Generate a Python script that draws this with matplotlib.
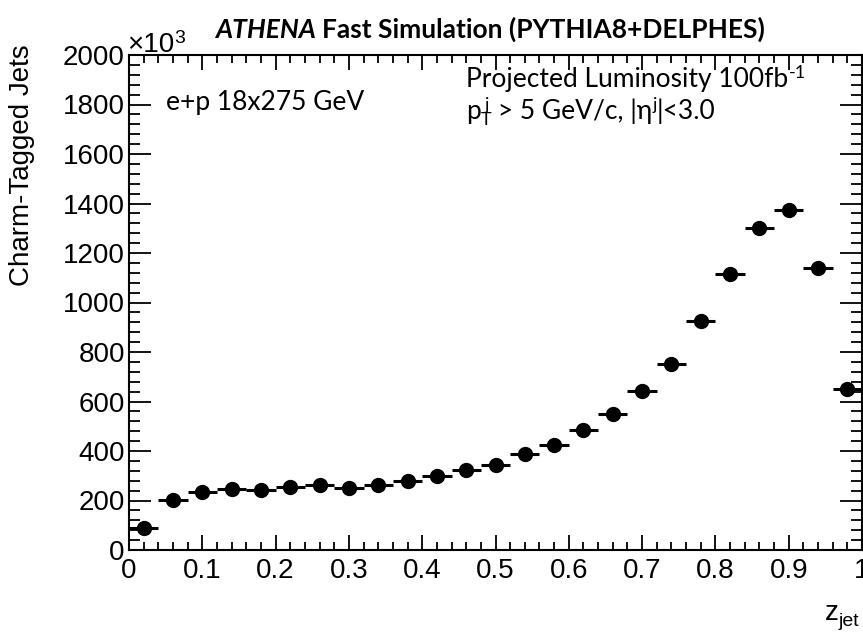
import numpy as np
import matplotlib
matplotlib.use("Agg")
from matplotlib import pyplot as plt
from matplotlib.ticker import MultipleLocator

# bin centres of z_jet (bin width 0.04) and counts in units of 10^3
z_centres = [0.02, 0.06, 0.10, 0.14, 0.18, 0.22, 0.26, 0.30, 0.34, 0.38,
             0.42, 0.46, 0.50, 0.54, 0.58, 0.62, 0.66, 0.70, 0.74, 0.78,
             0.82, 0.86, 0.90, 0.94, 0.98]
counts_k = [87, 203, 234, 245, 242, 255, 261, 250, 261, 279,
            298, 323, 345, 387, 423, 483, 548, 644, 753, 925,
            1114, 1301, 1374, 1141, 649]
bin_halfwidth = 0.02

helv = ['Liberation Sans', 'DejaVu Sans']
lato = ['Lato', 'DejaVu Sans']

W, H = 863, 634
fig = plt.figure(figsize=(W/100, H/100), dpi=100)
ax = fig.add_axes([129/W, 1 - 550/H, 733/W, 495/H])

ax.errorbar(z_centres, counts_k, xerr=bin_halfwidth, fmt='o', color='black',
            markersize=10, elinewidth=2.2, capsize=0)

ax.set_xlim(0, 1)
ax.set_ylim(0, 2000)
ax.xaxis.set_minor_locator(MultipleLocator(0.02))
ax.yaxis.set_major_locator(MultipleLocator(200))
ax.yaxis.set_minor_locator(MultipleLocator(40))
ax.set_xticks(np.arange(0, 1.01, 0.1))
ax.set_xticklabels(['0', '0.1', '0.2', '0.3', '0.4', '0.5', '0.6', '0.7', '0.8', '0.9', '1'])
ax.tick_params(axis='both', which='both', direction='in', top=True, right=True,
               width=1.3, labelsize=20)
ax.tick_params(axis='x', which='major', length=11, pad=6)
ax.tick_params(axis='x', which='minor', length=5.5)
ax.tick_params(axis='y', which='major', length=16, pad=3)
ax.tick_params(axis='y', which='minor', length=8)
for lab in ax.get_xticklabels() + ax.get_yticklabels():
    lab.set_family(helv)
for sp in ax.spines.values():
    sp.set_linewidth(1.5)


def px(x, y):
    return x / W, 1 - y / H


def after(txt, s, dy, size, fam, gap=1):
    # put a small text (sup/sub) right after another one, dy in pixels (up is +)
    fig.canvas.draw()
    bb = txt.get_window_extent()
    x0, y0 = txt.get_position()
    return fig.text((bb.x1 + gap) / W, y0 + dy / H, s, ha='left', va='baseline',
                    fontsize=size, family=fam)


fig.text(0.025, 0.74, "Charm-Tagged Jets", rotation=90, ha='center', va='center',
         fontsize=20, family=helv)

zt = fig.text(*px(825, 620), "z", ha='left', va='baseline', fontsize=20, family=helv)
after(zt, "jet", -6, 14, helv, gap=0)

xt = fig.text(*px(127, 52), "×10", ha='left', va='baseline', fontsize=20, family=helv)
after(xt, "3", 9, 14, helv, gap=0)

# title: ATHENA in bold italic, rest bold
t1 = fig.text(*px(215, 38), "ATHENA", ha='left', va='baseline',
              fontsize=19, family=lato, weight='bold', style='italic')
after(t1, "Fast Simulation (PYTHIA8+DELPHES)", 0, 19, lato, gap=6).set_weight('bold')

fig.text(*px(166, 110), "e+p 18x275 GeV", ha='left', va='baseline',
         fontsize=19, family=lato)
lum = fig.text(*px(466, 87), "Projected Luminosity 100fb", ha='left', va='baseline',
               fontsize=19, family=lato)
after(lum, "-1", 9, 13, lato)
p = fig.text(*px(466, 119), "p", ha='left', va='baseline', fontsize=19, family=lato)
pT = after(p, "T", -6, 13, lato, gap=0)
fig.canvas.draw()
pj = fig.text((p.get_window_extent().x1 + 4) / W, 1 - 110/H, "j", ha='left',
              va='baseline', fontsize=13, family=lato)
rest = after(pj, " > 5 GeV/c, |η", 9 - 9, 19, lato, gap=2)
rest.set_position((rest.get_position()[0], 1 - 119/H))
ej = after(rest, "j", 9, 13, lato, gap=0)
after(ej, "|<3.0", -9, 19, lato, gap=0)

fig.savefig("out.png", dpi=100)
